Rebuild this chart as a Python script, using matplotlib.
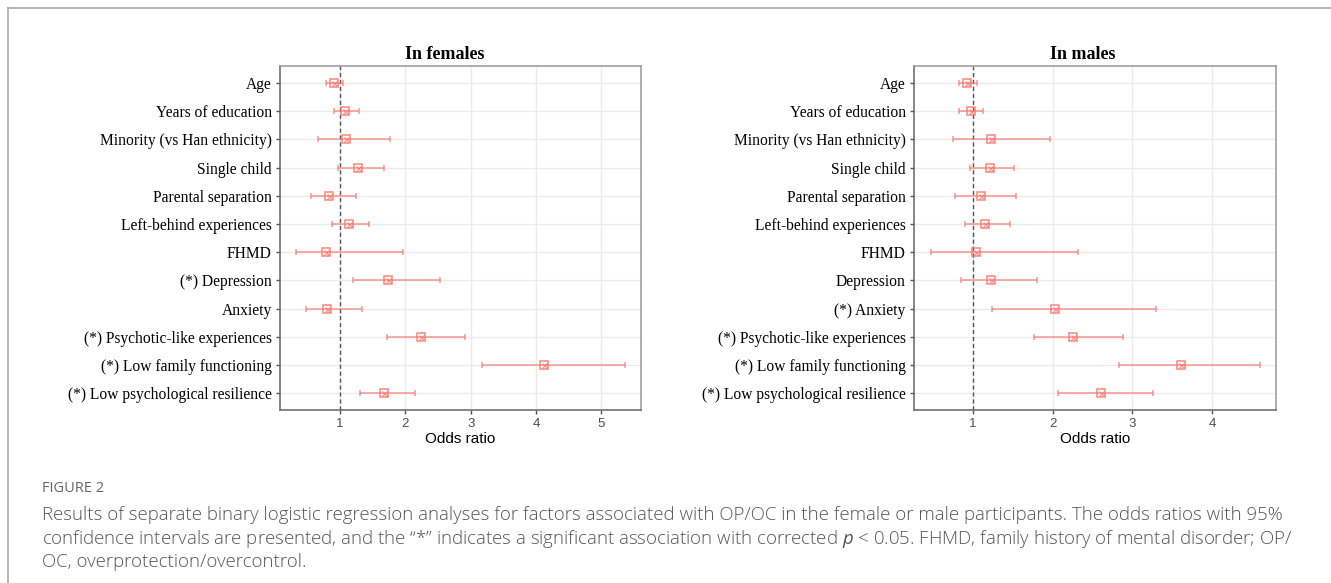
import numpy as np
import matplotlib
matplotlib.use('Agg')
import matplotlib.pyplot as plt
from matplotlib.lines import Line2D

plt.rcParams['mathtext.fontset'] = 'custom'
plt.rcParams['mathtext.it'] = 'Open Sans:italic'
plt.rcParams['mathtext.rm'] = 'Open Sans'

# ---- data ----
factors = ['Age', 'Years of education', 'Minority (vs Han ethnicity)', 'Single child',
           'Parental separation', 'Left-behind experiences', 'FHMD']

female_labels = factors + ['(*) Depression', 'Anxiety', '(*) Psychotic-like experiences',
                           '(*) Low family functioning', '(*) Low psychological resilience']
female_or = [0.90, 1.08, 1.09, 1.27, 0.83, 1.13, 0.79, 1.74, 0.80, 2.24, 4.13, 1.67]
female_lo = [0.79, 0.91, 0.66, 0.97, 0.56, 0.88, 0.32, 1.20, 0.48, 1.72, 3.17, 1.31]
female_hi = [1.04, 1.29, 1.77, 1.68, 1.24, 1.44, 1.96, 2.53, 1.33, 2.92, 5.37, 2.14]

male_labels = factors + ['Depression', '(*) Anxiety', '(*) Psychotic-like experiences',
                         '(*) Low family functioning', '(*) Low psychological resilience']
male_or = [0.93, 0.97, 1.22, 1.21, 1.10, 1.15, 1.04, 1.23, 2.03, 2.26, 3.61, 2.60]
male_lo = [0.83, 0.83, 0.75, 0.96, 0.78, 0.90, 0.47, 0.85, 1.24, 1.77, 2.83, 2.06]
male_hi = [1.05, 1.12, 1.97, 1.52, 1.54, 1.46, 2.32, 1.80, 3.30, 2.88, 4.60, 3.26]

female_ticks = [1, 2, 3, 4, 5]
male_ticks = [1, 2, 3, 4]

COL = '#F8766D'
SERIF = 'Liberation Serif'
SANS = 'Liberation Sans'


def forest(ax, labels, orr, lo, hi, ticks, xlim, title, title_x):
    n = len(labels)
    y = np.arange(n)[::-1]
    orr, lo, hi = np.array(orr), np.array(lo), np.array(hi)
    ax.axvline(1, color='#555555', linestyle=(0, (3, 2)), linewidth=1.0, zorder=2)
    ax.errorbar(orr, y, xerr=[orr - lo, hi - orr], fmt='none', ecolor=COL, alpha=0.75,
                elinewidth=1.1, capsize=2.2, capthick=1.1, zorder=3)
    ax.plot(orr, y, 's', ms=5.2, mfc='none', mec=COL, mew=1.2, alpha=0.8, zorder=4)
    ax.plot(orr, y, 'x', ms=3.6, mec=COL, mew=0.9, alpha=0.8, zorder=4)
    ax.set_yticks(y)
    ax.set_yticklabels(labels, fontfamily=SERIF, fontsize=11.2, color='black')
    ax.set_xticks(ticks)
    ax.set_xticklabels([str(t) for t in ticks], fontfamily=SANS, fontsize=9.5, color='#4d4d4d')
    ax.set_xlim(*xlim)
    ax.set_ylim(-0.6, n - 0.4)
    ax.grid(True, color='#ebebeb', linewidth=1.0, zorder=0)
    ax.set_axisbelow(True)
    for side in ['top', 'right']:
        ax.spines[side].set_color('#999999')
    for side in ['left', 'bottom']:
        ax.spines[side].set_color('#666666')
    for s in ax.spines.values():
        s.set_linewidth(1.1)
    ax.tick_params(axis='both', length=3, width=1.0, color='#555555', pad=3)
    ax.set_xlabel('Odds ratio', fontfamily=SANS, fontsize=11, labelpad=1)
    ax.set_title(title, fontfamily=SERIF, fontsize=13, fontweight='bold', pad=5, x=title_x)


fig = plt.figure(figsize=(13.31, 5.83), dpi=100)
ax1 = fig.add_axes([0.2104, 0.2967, 0.2712, 0.5901])
ax2 = fig.add_axes([0.6867, 0.2967, 0.2720, 0.5901])

forest(ax1, female_labels, female_or, female_lo, female_hi, female_ticks, (0.08, 5.61),
       'In females', 0.455)
forest(ax2, male_labels, male_or, male_lo, male_hi, male_ticks, (0.26, 4.80),
       'In males', 0.467)

# page frame
fig.add_artist(Line2D([8 / 1331, 1], [1 - 8 / 583] * 2, color='#aaaaaa', lw=1.2))
fig.add_artist(Line2D([8 / 1331] * 2, [0, 1 - 8 / 583], color='#aaaaaa', lw=1.2))

# caption
cap_col = '#555555'
fig.text(42 / 1331, 1 - 488 / 583, 'FIGURE 2', fontfamily='Open Sans', fontsize=10.5,
         color='#666666', va='center')
cap_lines = [
    'Results of separate binary logistic regression analyses for factors associated with OP/OC in the female or male participants. The odds ratios with 95%',
    'confidence intervals are presented, and the \u201c*\u201d indicates a significant association with corrected $p$ < 0.05. FHMD, family history of mental disorder; OP/',
    'OC, overprotection/overcontrol.',
]
for i, line in enumerate(cap_lines):
    fig.text(42 / 1331, 1 - (515 + 23.5 * i) / 583, line, fontfamily='Open Sans',
             fontweight='light', fontsize=13.4, color=cap_col, va='center')

fig.savefig('out.png', dpi=100)
